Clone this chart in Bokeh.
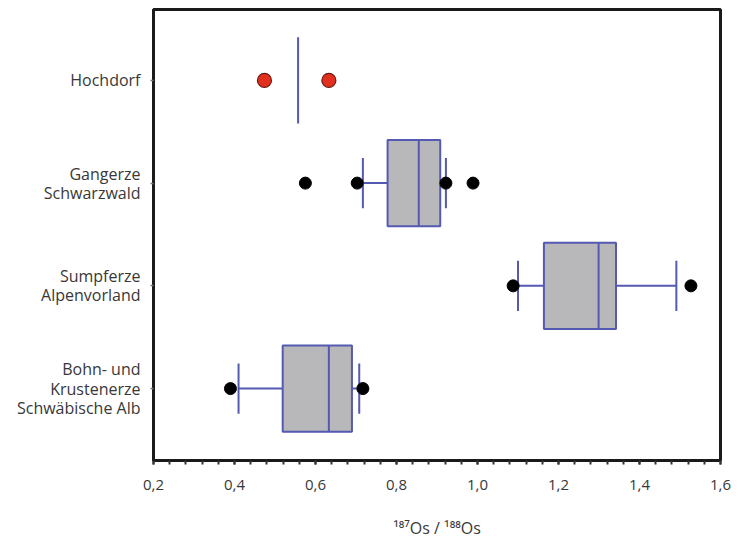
from bokeh.plotting import figure
from bokeh.models import FixedTicker, ColumnDataSource
from bokeh.embed import file_html
from bokeh.resources import INLINE

# ---- data ----
categories = ["Hochdorf", "Gangerze\nSchwarzwald", "Sumpferze\nAlpenvorland",
              "Bohn- und\nKrustenerze\nSchwäbische Alb"]
cat_pos = [4, 3, 2, 1]

# Hochdorf: only a median line and two points
hoch_median = 0.557
hoch_points = [0.474, 0.633]

# box plots (Gangerze, Sumpferze, Bohn)
box_pos = [3, 2, 1]
q1 = [0.778, 1.164, 0.519]
median = [0.855, 1.299, 0.633]
q3 = [0.908, 1.342, 0.690]
lower = [0.717, 1.100, 0.410]
upper = [0.922, 1.491, 0.708]

out_x = [0.575, 0.703, 0.922, 0.989, 1.088, 1.527, 0.390, 0.717]
out_y = [3, 3, 3, 3, 2, 2, 1, 1]

x_ticks = [0.2, 0.4, 0.6, 0.8, 1.0, 1.2, 1.4, 1.6]
x_tick_labels = ["0,2", "0,4", "0,6", "0,8", "1,0", "1,2", "1,4", "1,6"]
x_label = "¹⁸⁷Os / ¹⁸⁸Os"

# ---- styling ----
FONT = "Open Sans"
BLUE = "#5459b2"
GRAY = "#b8b8ba"
TXT = "#383838"
BW = 0.42
CW = 0.245

p = figure(width=734, height=541, output_backend="svg", toolbar_location=None,
           x_range=(0.2, 1.6), y_range=(0.30, 4.69),
           min_border_left=153, min_border_right=14, min_border_top=9, min_border_bottom=71)

src = ColumnDataSource(dict(y=box_pos, q1=q1, med=median, q3=q3, lo=lower, hi=upper,
                            yb=[v - BW for v in box_pos], yt=[v + BW for v in box_pos],
                            cb=[v - CW for v in box_pos], ct=[v + CW for v in box_pos]))

# whiskers
p.segment(x0="lo", y0="y", x1="q1", y1="y", source=src, line_color=BLUE, line_width=2)
p.segment(x0="q3", y0="y", x1="hi", y1="y", source=src, line_color=BLUE, line_width=2)
p.segment(x0="lo", y0="cb", x1="lo", y1="ct", source=src, line_color=BLUE, line_width=2)
p.segment(x0="hi", y0="cb", x1="hi", y1="ct", source=src, line_color=BLUE, line_width=2)
# boxes
p.quad(left="q1", right="q3", bottom="yb", top="yt", source=src,
       fill_color=GRAY, line_color=BLUE, line_width=2)
p.segment(x0="med", y0="yb", x1="med", y1="yt", source=src, line_color=BLUE, line_width=2)

# Hochdorf
p.segment(x0=[hoch_median], y0=[4 - BW], x1=[hoch_median], y1=[4 + BW],
          line_color=BLUE, line_width=2)
p.scatter(x=hoch_points, y=[4] * len(hoch_points), size=14,
          fill_color="#e2301e", line_color="#6a1a10", line_width=1.2)

# outliers
p.scatter(x=out_x, y=out_y, size=12, fill_color="black", line_color="black")

# axes
p.xgrid.visible = False
p.ygrid.visible = False
p.outline_line_color = "#1a1a1a"
p.outline_line_width = 3
p.outline_line_alpha = 1

xa = p.xaxis[0]
xa.ticker = FixedTicker(ticks=x_ticks,
                        minor_ticks=[round(0.2 + 0.04 * i, 3) for i in range(36)])
xa.major_label_overrides = {t: l for t, l in zip(x_ticks, x_tick_labels)}
xa.axis_line_color = "#1a1a1a"
xa.axis_line_width = 3
xa.major_tick_in = 0
xa.major_tick_out = 4
xa.minor_tick_in = 0
xa.minor_tick_out = 4
xa.major_tick_line_width = 2
xa.minor_tick_line_width = 2
xa.major_tick_line_color = "#333333"
xa.minor_tick_line_color = "#333333"
xa.major_label_text_font = FONT
xa.major_label_text_font_size = "15px"
xa.major_label_text_color = TXT
xa.major_label_standoff = 15
xa.axis_label = x_label
xa.axis_label_text_font = FONT
xa.axis_label_text_font_size = "16px"
xa.axis_label_text_font_style = "normal"
xa.axis_label_text_color = TXT
xa.axis_label_standoff = 24

ya = p.yaxis[0]
ya.ticker = FixedTicker(ticks=cat_pos, minor_ticks=[])
ya.major_label_overrides = {pos: c for pos, c in zip(cat_pos, categories)}
ya.axis_line_color = "#1a1a1a"
ya.axis_line_width = 3
ya.major_tick_in = 0
ya.major_tick_out = 3
ya.major_tick_line_color = "#777777"
ya.major_tick_line_width = 1.5
ya.major_label_text_font = FONT
ya.major_label_text_font_size = "16px"
ya.major_label_text_color = TXT
ya.major_label_text_align = "right"
ya.major_label_text_line_height = 0.87
ya.major_label_standoff = 10

open("out.html", "w").write(file_html(p, INLINE))
